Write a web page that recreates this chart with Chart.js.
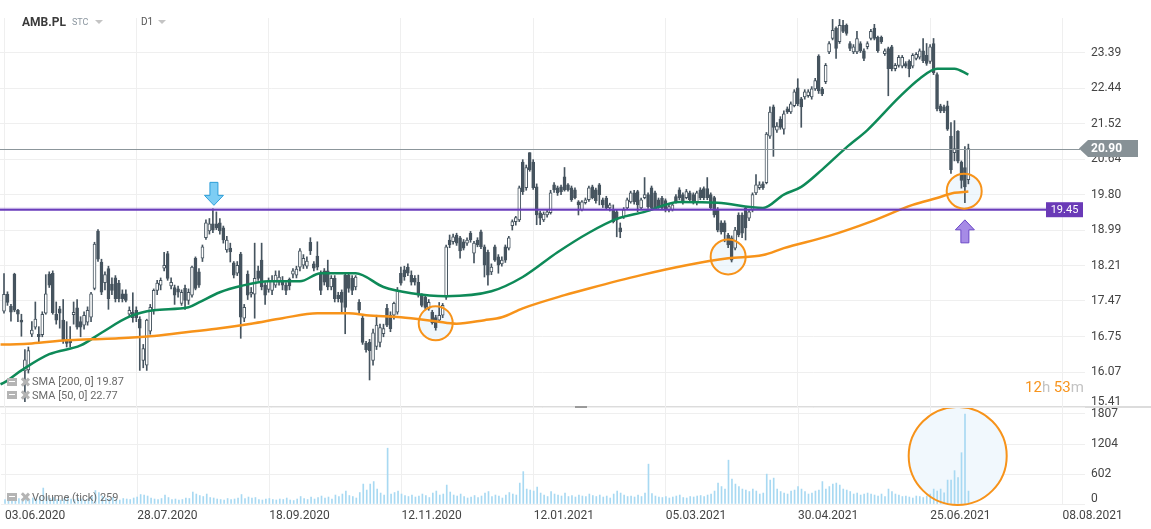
<!DOCTYPE html>
<html>
<head>
<meta charset="utf-8">
<title>AMB.PL</title>
<script src="https://cdn.jsdelivr.net/npm/chart.js@4.4.0/dist/chart.umd.min.js"></script>
<style>
  html, body { margin: 0; padding: 0; background: #fff; }
  #wrap { position: relative; width: 1151px; height: 529px; overflow: hidden; font-family: Roboto, sans-serif; }
  canvas { position: absolute; left: 0; }
  #vc { top: 408px; z-index: 1; }
  #pc { top: 0; z-index: 2; }
  #sep { position: absolute; left: 0; top: 406px; width: 1151px; height: 2px; background: #dcdcdc; z-index: 1; }
  #grip { position: absolute; left: 575px; top: 406px; width: 12px; height: 2px; background: #9a9a9a; z-index: 3; }
  .t { position: absolute; white-space: pre; z-index: 3; line-height: 1; }
  .tri { position: absolute; width: 0; height: 0; border-left: 4px solid transparent; border-right: 4px solid transparent; border-top: 4px solid #c4c4c4; z-index: 3; }
  .ico { position: absolute; width: 10px; height: 8px; background: #b4b4b4; z-index: 3; }
  .ico::after { content: ''; position: absolute; left: 2px; top: 3px; width: 6px; height: 1px; background: #fff; }
  .xx { position: absolute; width: 8px; height: 8px; z-index: 3; }
  .xx::before, .xx::after { content: ''; position: absolute; left: 3px; top: -1px; width: 2.5px; height: 10px; background: #b4b4b4; }
  .xx::before { transform: rotate(45deg); }
  .xx::after { transform: rotate(-45deg); }
</style>
</head>
<body>
<div id="wrap">
  <div id="sep"></div>
  <div id="grip"></div>
  <canvas id="vc" width="1151" height="121"></canvas>
  <canvas id="pc" width="1151" height="420"></canvas>

  <div class="t" style="left:22px;top:16px;font-weight:bold;font-size:12px;color:#3b3b3b">AMB.PL</div>
  <div class="t" style="left:72px;top:18px;font-size:9px;color:#8c97a0">STC</div>
  <div class="tri" style="left:95px;top:20px"></div>
  <div class="t" style="left:141px;top:17px;font-size:10px;color:#555">D1</div>
  <div class="tri" style="left:158px;top:20px"></div>

  <div class="ico" style="left:7px;top:378px"></div><div class="xx" style="left:21px;top:378px"></div>
  <div class="t" style="left:32px;top:376px;font-size:11px;color:#6a6a6a">SMA [200, 0] 19.87</div>
  <div class="ico" style="left:7px;top:391px"></div><div class="xx" style="left:21px;top:391px"></div>
  <div class="t" style="left:32px;top:390px;font-size:11px;color:#6a6a6a">SMA [50, 0] 22.77</div>
  <div class="ico" style="left:7px;top:493px"></div><div class="xx" style="left:21px;top:493px"></div>
  <div class="t" style="left:32px;top:492px;font-size:11px;color:#6a6a6a">Volume (tick) 259</div>

  <div class="t" style="left:1025px;top:380px;font-size:15px"><span style="color:#f7941d">12</span><span style="color:#c3c3c3">h </span><span style="color:#f7941d">53</span><span style="color:#c3c3c3">m</span></div>
</div>

<script>
// daily candles, index 0 = 03.06.2020
var opens = [
  17.26,17.61,17.36,18.03,17.28,17.08,16.09,16.11,16.80,16.94,
  16.80,16.79,17.22,18.03,18.05,17.20,17.31,17.08,16.68,16.70,
  17.19,17.33,17.05,16.98,17.04,17.14,17.73,18.97,18.29,17.85,
  18.15,17.82,17.95,17.84,17.62,17.62,17.20,17.24,17.28,17.10,
  16.29,16.20,16.86,17.28,17.69,17.80,18.16,18.47,17.78,17.75,
  17.72,17.42,17.73,17.48,17.59,18.37,18.08,18.37,18.82,18.97,
  19.13,19.13,19.15,19.04,18.55,18.59,18.27,18.05,18.46,17.12,
  18.03,17.61,17.61,18.10,18.33,17.80,17.71,17.69,17.80,17.86,
  17.90,17.80,17.92,18.03,18.01,18.18,18.22,18.20,18.72,18.25,
  18.42,18.03,18.10,18.10,17.76,17.94,17.59,17.65,18.01,18.01,
  17.94,17.76,17.44,17.12,16.62,16.64,16.29,16.56,16.64,16.81,
  17.32,17.18,17.18,17.24,18.05,18.12,18.18,18.01,17.94,17.86,
  17.59,17.55,17.32,17.24,17.13,17.08,17.18,17.55,18.77,18.73,
  18.88,18.82,18.73,18.70,18.92,18.48,18.77,18.95,18.62,18.50,
  18.08,18.62,18.40,18.25,18.62,18.59,19.09,19.18,19.22,20.57,
  19.96,20.80,20.57,19.98,19.38,19.22,19.33,19.38,20.03,19.96,
  19.98,20.22,20.03,19.96,19.91,19.63,19.45,19.61,19.68,19.98,
  19.91,20.03,19.68,19.72,19.49,19.45,19.40,19.04,19.29,19.49,
  19.63,19.84,19.87,19.49,19.73,19.80,19.96,19.84,19.68,19.72,
  19.66,19.45,19.45,19.75,19.91,19.80,19.73,19.84,19.80,19.61,
  19.91,19.94,19.94,19.80,19.73,19.45,19.15,19.15,18.88,18.82,
  18.59,19.33,19.33,19.49,19.26,19.45,19.84,19.96,20.05,20.08,
  21.21,21.95,21.36,21.64,21.38,21.90,21.82,21.98,22.45,22.16,
  22.21,22.24,22.21,22.42,23.30,22.42,22.61,23.42,23.79,24.08,
  23.70,24.16,24.16,23.65,23.42,23.42,23.65,23.45,23.56,23.79,
  24.08,23.82,23.82,23.37,23.51,23.56,22.96,23.05,23.03,23.10,
  23.16,23.03,23.24,23.27,23.45,23.32,23.16,23.65,22.80,21.98,
  21.95,21.98,21.21,20.80,21.33,20.57,20.44,20.15
];
var highs = [
  18.04,17.66,17.40,18.05,17.30,17.20,16.50,16.55,17.05,17.45,
  16.95,17.25,18.02,18.08,18.10,17.45,17.36,17.50,17.05,16.95,
  17.45,17.50,17.15,17.25,17.35,17.65,18.72,19.00,18.35,18.08,
  18.20,17.95,18.00,17.90,17.70,17.70,17.35,17.64,17.35,17.15,
  16.60,17.10,17.40,17.72,17.90,17.95,18.50,18.52,17.95,17.80,
  17.78,17.70,17.80,17.72,18.20,18.40,18.15,18.66,19.22,19.25,
  19.47,19.40,19.25,19.08,18.85,18.70,18.30,18.30,18.50,17.40,
  18.10,17.75,18.70,18.20,18.70,17.85,17.95,18.00,18.10,18.10,
  17.98,17.85,17.95,18.15,18.20,18.58,18.45,18.40,18.82,18.30,
  18.73,18.10,18.15,18.33,18.00,18.00,17.65,17.70,18.05,18.05,
  18.00,18.00,17.50,17.18,16.66,16.70,16.90,17.18,17.00,17.00,
  17.40,17.25,17.45,17.75,18.18,18.20,18.25,18.10,18.00,18.01,
  17.62,17.60,17.50,17.28,17.18,17.44,17.42,18.66,18.88,18.90,
  18.92,18.85,18.78,18.82,18.96,18.74,18.82,18.99,18.66,18.55,
  18.25,18.66,18.45,18.40,18.66,18.85,19.22,19.30,20.00,20.63,
  20.50,20.80,20.63,20.05,19.42,19.40,19.45,19.90,20.08,20.00,
  20.02,20.44,20.06,20.00,19.96,19.66,19.66,19.72,20.00,20.02,
  19.95,20.06,19.72,19.76,19.60,19.56,19.45,19.15,19.50,19.72,
  19.88,19.90,19.90,19.72,20.20,19.84,20.00,19.88,19.72,19.76,
  19.70,19.56,19.60,19.80,19.96,19.84,19.92,19.88,19.84,19.88,
  19.96,19.98,20.20,19.84,19.76,19.50,19.20,19.20,18.92,18.86,
  19.05,19.38,19.38,19.52,19.45,19.84,20.27,20.10,20.10,21.30,
  21.95,22.00,21.55,21.70,21.85,21.95,22.08,22.40,22.69,22.20,
  22.40,22.40,22.48,22.70,23.34,22.46,23.10,23.70,24.33,24.12,
  24.33,24.30,24.20,23.70,23.62,23.99,23.70,23.50,23.70,24.05,
  24.19,23.86,23.86,23.50,23.55,23.60,23.10,23.32,23.32,23.15,
  23.20,23.37,23.40,23.50,23.79,23.65,23.62,23.79,22.85,22.02,
  22.00,22.10,21.55,21.60,21.35,20.60,20.95,21.01
];
var lows = [
  17.22,17.38,17.06,17.25,17.05,16.76,15.52,16.05,16.75,16.90,
  16.62,16.75,17.20,17.75,17.20,17.00,16.92,16.62,16.55,16.55,
  17.00,16.90,16.75,16.90,16.98,17.05,17.70,18.30,17.60,17.70,
  17.30,17.60,17.45,17.45,17.45,17.45,17.15,17.04,17.05,16.10,
  16.15,16.10,16.80,17.20,17.60,17.70,18.10,17.90,17.72,17.40,
  17.55,17.38,17.30,17.40,17.55,17.70,17.75,18.30,18.78,18.90,
  18.93,19.00,18.90,18.70,18.50,18.29,17.95,18.00,16.72,17.05,
  17.50,17.55,17.12,17.90,17.70,17.40,17.65,17.60,17.75,17.80,
  17.70,17.60,17.70,17.95,17.95,18.10,18.15,18.15,18.45,18.10,
  18.12,17.60,17.80,17.70,17.70,17.45,17.45,17.24,16.81,17.65,
  17.60,17.70,17.20,16.60,16.45,15.92,16.20,16.50,16.55,16.75,
  16.95,16.85,17.10,17.20,17.80,17.90,18.00,17.80,17.80,17.55,
  17.35,17.30,17.28,17.00,16.88,17.03,17.13,17.50,18.60,18.68,
  18.65,18.37,18.55,18.65,18.72,18.27,18.62,18.58,17.97,17.80,
  18.02,18.30,18.05,18.20,18.28,18.55,18.99,19.10,19.18,19.80,
  19.90,20.35,19.92,19.11,19.11,19.18,19.28,19.35,19.85,19.78,
  19.80,19.88,19.88,19.64,19.70,19.33,19.42,19.58,19.64,19.70,
  19.60,19.56,19.50,19.45,19.42,19.15,18.84,18.82,19.25,19.45,
  19.60,19.58,19.40,19.45,19.70,19.48,19.45,19.45,19.48,19.45,
  19.40,19.40,19.42,19.60,19.68,19.58,19.70,19.64,19.58,19.56,
  19.68,19.68,19.68,19.45,19.28,18.95,18.90,18.73,18.60,18.29,
  18.55,18.84,18.82,18.77,19.20,19.40,19.80,19.92,19.92,20.05,
  21.15,20.71,21.30,21.38,21.26,21.78,21.78,21.95,21.98,21.43,
  22.15,22.20,22.15,22.38,22.30,22.24,22.56,23.37,23.75,23.24,
  23.65,23.95,23.88,23.45,23.37,23.37,23.40,23.18,23.50,23.75,
  23.75,23.40,23.65,23.32,22.24,22.90,22.90,23.00,22.98,22.98,
  22.74,22.98,23.20,23.22,23.12,23.05,23.10,22.80,21.85,21.80,
  21.80,21.35,20.30,20.60,20.55,19.95,19.61,20.05
];
var closes = [
  17.61,17.44,17.24,17.28,17.20,17.04,16.30,16.48,16.88,17.10,
  16.75,17.20,17.62,17.80,17.23,17.08,17.22,16.68,16.62,16.63,
  17.24,16.94,16.94,17.18,17.28,17.62,18.68,18.35,17.65,18.02,
  17.52,17.69,17.52,17.52,17.52,17.48,17.28,17.13,17.13,16.92,
  16.52,17.08,17.34,17.69,17.84,17.90,18.22,17.94,17.86,17.59,
  17.65,17.65,17.48,17.65,18.18,17.73,17.80,18.62,19.15,19.13,
  18.99,19.04,18.97,18.77,18.77,18.51,18.01,18.22,17.14,17.34,
  17.59,17.65,17.94,17.94,17.76,17.59,17.88,17.90,18.01,17.97,
  17.80,17.69,17.78,18.10,18.14,18.53,18.37,18.31,18.53,18.16,
  18.18,17.69,17.86,17.76,17.94,17.52,17.52,17.44,17.34,17.73,
  17.69,17.97,17.28,16.64,16.50,16.48,16.83,16.98,16.93,16.91,
  16.98,16.91,17.42,17.69,17.84,17.97,18.05,17.86,17.86,17.59,
  17.38,17.34,17.44,17.03,16.93,17.18,17.38,18.62,18.66,18.84,
  18.70,18.53,18.59,18.77,18.77,18.70,18.66,18.62,18.22,18.01,
  18.18,18.33,18.22,18.33,18.33,18.82,19.18,19.27,19.96,19.87,
  20.44,20.39,19.96,19.33,19.26,19.35,19.40,19.84,19.91,19.84,
  19.87,19.91,19.91,19.68,19.73,19.56,19.63,19.68,19.96,19.73,
  19.66,19.80,19.56,19.49,19.56,19.18,19.22,18.95,19.45,19.68,
  19.84,19.63,19.56,19.68,19.80,19.52,19.49,19.49,19.52,19.49,
  19.45,19.52,19.56,19.63,19.73,19.63,19.87,19.68,19.63,19.84,
  19.73,19.73,19.73,19.49,19.33,18.99,18.95,18.95,18.66,18.33,
  18.99,18.88,18.92,19.04,19.40,19.80,20.03,20.03,19.96,21.26,
  21.82,21.43,21.46,21.43,21.77,21.82,22.03,22.34,22.03,21.95,
  22.34,22.34,22.42,22.64,22.37,22.29,23.05,23.65,24.02,23.51,
  24.16,23.99,23.93,23.51,23.56,23.79,23.45,23.24,23.65,23.99,
  23.79,23.45,23.70,23.45,22.96,22.96,23.05,23.27,23.27,23.03,
  22.96,23.32,23.35,23.45,23.18,23.10,23.56,22.85,21.90,21.85,
  21.85,21.38,20.39,20.90,20.59,20.13,19.98,20.90
];
var volumes = [
  90,120,80,150,110,100,130,90,120,100,
  140,320,150,110,130,90,80,110,140,100,
  90,120,100,80,110,150,270,230,160,120,
  100,130,90,80,110,100,90,120,140,190,
  180,160,120,100,90,110,180,130,90,100,
  80,90,120,110,240,200,170,150,200,130,
  120,100,90,80,110,90,100,120,190,110,
  140,120,130,90,80,100,110,90,80,100,
  90,120,80,70,100,150,110,90,140,100,
  130,160,120,140,100,180,150,200,260,170,
  150,120,230,400,280,400,450,300,220,180,
  1120,200,230,260,200,170,150,180,140,160,
  200,170,130,220,260,180,200,380,240,180,
  160,200,150,120,140,170,130,160,220,250,
  150,180,160,120,180,230,200,180,420,650,
  300,280,260,340,220,180,150,250,200,180,
  160,220,150,170,140,180,160,150,200,170,
  150,180,140,160,120,200,260,220,180,150,
  160,140,180,150,220,800,210,160,140,130,
  150,120,140,160,180,130,120,150,140,160,
  170,150,180,200,260,420,350,300,880,500,
  400,350,300,280,250,300,260,200,220,600,
  480,520,300,250,220,200,260,280,350,300,
  250,200,220,260,280,450,300,350,400,420,
  380,300,280,250,200,220,180,200,220,200,
  180,160,200,150,300,250,200,180,150,160,
  140,120,160,150,130,160,200,300,260,300,
  225,480,480,670,530,1030,1807,259
];

// moving averages (bar index -> value)
var sma50Idx = [-1,0,5,13,22,28,36,43,53,56,62,68,76,85,91,101,109,117,127,140,149,159,168,176,184,194,205,218,224,229,235,242,248,257,263,268,273,277];
var sma50Val = [15.84,15.87,16.10,16.41,16.58,16.83,17.15,17.28,17.34,17.44,17.65,17.78,17.88,17.88,18.05,18.05,17.76,17.63,17.57,17.67,17.97,18.50,18.93,19.24,19.40,19.63,19.61,19.49,19.80,19.98,20.39,20.93,21.36,22.19,22.69,22.96,22.96,22.80];
var sma200Idx = [-1,0,8,18,25,33,42,51,61,71,80,90,99,104,114,124,130,138,143,149,161,168,183,196,208,218,224,237,249,261,268,273,277];
var sma200Val = [16.60,16.60,16.62,16.68,16.70,16.72,16.76,16.83,16.91,17.01,17.12,17.22,17.22,17.18,17.14,17.06,17.01,17.08,17.14,17.32,17.59,17.73,18.01,18.22,18.37,18.44,18.59,18.86,19.18,19.56,19.72,19.84,19.87];

var priceTicks = [15.41,16.07,16.75,17.47,18.21,18.99,19.80,20.64,21.52,22.44,23.39];
var volTicks = [0,602,1204,1807];
var dateTickIdx = [0,38,76,114,152,190,228,266,304];
var dateTickLbl = ['03.06.2020','28.07.2020','18.09.2020','12.11.2020','12.01.2021','05.03.2021','30.04.2021','25.06.2021','08.08.2021'];

var levelPrice = 19.45;   // horizontal level
var lastPrice = 20.90;    // current price
// marked spots: bar index, price/volume, radius
var rings = [ {i: 124, p: 17.02, r: 17}, {i: 208, p: 18.40, r: 17.5}, {i: 275.8, p: 19.88, r: 17.5} ];
var volRing = {i: 273.9, v: 964, r: 49};
var downArrow = {i: 60.3, p: 19.55};
var upArrow = {i: 276, p: 19.22};

var X_MIN = -1.15, X_MAX = 310.5;
var DARK = '#46545f';
Chart.defaults.font.family = 'Roboto, sans-serif';

function drawYLabels(chart, vals, fmt) {
  var ctx = chart.ctx, y = chart.scales.y, area = chart.chartArea;
  ctx.save();
  ctx.font = '12px Roboto';
  ctx.fillStyle = '#444';
  ctx.textBaseline = 'middle';
  ctx.textAlign = 'left';
  vals.forEach(function(v) {
    var py = y.getPixelForValue(v);
    py = Math.max(area.top + 6, Math.min(area.bottom - 5, py));
    ctx.fillText(fmt(v), 1091, py);
  });
  ctx.restore();
}

function arrow(ctx, tx, ty, dir, fill, stroke) {
  // dir 1 = pointing down (tip at bottom), -1 = pointing up
  var s = dir;
  ctx.beginPath();
  ctx.moveTo(tx, ty);
  ctx.lineTo(tx + 9.5, ty - s * 10);
  ctx.lineTo(tx + 4, ty - s * 10);
  ctx.lineTo(tx + 4, ty - s * 23);
  ctx.lineTo(tx - 4, ty - s * 23);
  ctx.lineTo(tx - 4, ty - s * 10);
  ctx.lineTo(tx - 9.5, ty - s * 10);
  ctx.closePath();
  ctx.fillStyle = fill;
  ctx.fill();
  ctx.lineWidth = 1;
  ctx.strokeStyle = stroke;
  ctx.stroke();
}

var priceDecor = {
  id: 'priceDecor',
  beforeDatasetsDraw: function(chart) {
    var ctx = chart.ctx, x = chart.scales.x, y = chart.scales.y;
    ctx.save();
    ctx.fillStyle = 'rgba(228,241,250,0.55)';
    rings.forEach(function(r) {
      ctx.beginPath();
      ctx.arc(x.getPixelForValue(r.i), y.getPixelForValue(r.p), r.r, 0, Math.PI * 2);
      ctx.fill();
    });
    ctx.restore();
  },
  afterDatasetsDraw: function(chart) {
    var ctx = chart.ctx, x = chart.scales.x, y = chart.scales.y;
    ctx.save();
    // current price line
    var yl = Math.round(y.getPixelForValue(lastPrice)) + 0.5;
    ctx.strokeStyle = '#8c969b';
    ctx.lineWidth = 1;
    ctx.beginPath(); ctx.moveTo(0, yl); ctx.lineTo(1080, yl); ctx.stroke();
    // level line
    var yp = y.getPixelForValue(levelPrice);
    ctx.strokeStyle = 'rgba(111,63,192,0.35)';
    ctx.lineWidth = 1;
    ctx.beginPath(); ctx.moveTo(0, yp - 1.5); ctx.lineTo(1046, yp - 1.5); ctx.stroke();
    ctx.strokeStyle = '#6a3dbb';
    ctx.lineWidth = 2;
    ctx.beginPath(); ctx.moveTo(0, yp); ctx.lineTo(1046, yp); ctx.stroke();
    // rings
    ctx.strokeStyle = '#f7931a';
    ctx.lineWidth = 2;
    rings.forEach(function(r) {
      ctx.beginPath();
      ctx.arc(x.getPixelForValue(r.i), y.getPixelForValue(r.p), r.r, 0, Math.PI * 2);
      ctx.stroke();
    });
    // arrows
    arrow(ctx, x.getPixelForValue(downArrow.i), y.getPixelForValue(downArrow.p), 1, '#7dcdf4', '#2d9fd9');
    arrow(ctx, x.getPixelForValue(upArrow.i), y.getPixelForValue(upArrow.p), -1, '#a68be6', '#6a48c6');
    ctx.restore();
  },
  afterDraw: function(chart) {
    var ctx = chart.ctx, y = chart.scales.y;
    drawYLabels(chart, priceTicks, function(v) { return v.toFixed(2); });
    ctx.save();
    // level tag
    var yp = y.getPixelForValue(levelPrice);
    ctx.fillStyle = '#6a3ab7';
    ctx.fillRect(1046, yp - 7.5, 37, 15);
    ctx.fillStyle = '#fff';
    ctx.font = '11px Roboto';
    ctx.textAlign = 'center';
    ctx.textBaseline = 'middle';
    ctx.fillText(levelPrice.toFixed(2), 1064.5, yp + 0.5);
    // price tag
    var yl = y.getPixelForValue(lastPrice);
    ctx.fillStyle = '#879196';
    ctx.beginPath();
    ctx.moveTo(1079, yl);
    ctx.lineTo(1088, yl - 8.5);
    ctx.lineTo(1138, yl - 8.5);
    ctx.lineTo(1138, yl + 8.5);
    ctx.lineTo(1088, yl + 8.5);
    ctx.closePath();
    ctx.fill();
    ctx.fillStyle = '#fff';
    ctx.font = 'bold 12px Roboto';
    ctx.textAlign = 'left';
    ctx.fillText(lastPrice.toFixed(2), 1091, yl + 0.5);
    ctx.restore();
  }
};

var volDecor = {
  id: 'volDecor',
  beforeDatasetsDraw: function(chart) {
    var ctx = chart.ctx, x = chart.scales.x, y = chart.scales.y;
    ctx.save();
    ctx.fillStyle = '#f1f8fd';
    ctx.beginPath();
    ctx.arc(x.getPixelForValue(volRing.i), y.getPixelForValue(volRing.v), volRing.r, 0, Math.PI * 2);
    ctx.fill();
    ctx.restore();
  },
  afterDatasetsDraw: function(chart) {
    var ctx = chart.ctx, x = chart.scales.x, y = chart.scales.y;
    ctx.save();
    ctx.strokeStyle = '#f7931a';
    ctx.lineWidth = 2;
    ctx.beginPath();
    ctx.arc(x.getPixelForValue(volRing.i), y.getPixelForValue(volRing.v), volRing.r, 0, Math.PI * 2);
    ctx.stroke();
    ctx.restore();
  },
  afterDraw: function(chart) {
    drawYLabels(chart, volTicks, function(v) { return String(v); });
  }
};

var wickData = highs.map(function(h, i) { return {x: i, y: [lows[i], h]}; });
var bodyData = opens.map(function(o, i) { return {x: i, y: [Math.min(o, closes[i]), Math.max(o, closes[i])]}; });
var sma50Data = sma50Idx.map(function(v, k) { return {x: v, y: sma50Val[k]}; });
var sma200Data = sma200Idx.map(function(v, k) { return {x: v, y: sma200Val[k]}; });

var GraficoPrecio = new Chart(document.getElementById('pc'), {
  type: 'bar',
  data: {
    datasets: [
      { type: 'line', data: sma200Data, borderColor: '#f7931a', borderWidth: 2.5, pointRadius: 0, cubicInterpolationMode: 'monotone', order: 0 },
      { type: 'line', data: sma50Data, borderColor: '#0e8a58', borderWidth: 2.5, pointRadius: 0, cubicInterpolationMode: 'monotone', order: 0 },
      { data: bodyData, grouped: false, barThickness: 3, minBarLength: 1, borderWidth: 1, borderSkipped: false,
        borderColor: DARK,
        backgroundColor: function(c) { var i = c.dataIndex; return closes[i] >= opens[i] ? '#ffffff' : DARK; },
        order: 1 },
      { data: wickData, grouped: false, barThickness: 1, backgroundColor: DARK, borderWidth: 0, order: 2 }
    ]
  },
  options: {
    responsive: false,
    animation: false,
    events: [],
    layout: { padding: { top: 18, bottom: 13, left: 0, right: 0 } },
    plugins: { legend: { display: false }, tooltip: { enabled: false } },
    scales: {
      x: {
        type: 'linear', min: X_MIN, max: X_MAX, offset: false,
        afterBuildTicks: function(s) { s.ticks = dateTickIdx.map(function(v) { return {value: v}; }); },
        afterFit: function(s) { s.height = 0; },
        ticks: { display: false },
        grid: { color: '#efefef', drawTicks: false, offset: false },
        border: { display: false }
      },
      y: {
        type: 'logarithmic', position: 'right', min: 15.422, max: 24.37,
        afterBuildTicks: function(s) { s.ticks = priceTicks.map(function(v) { return {value: v}; }); },
        afterFit: function(s) { s.width = 66; },
        ticks: { display: false },
        grid: { color: '#efefef', drawTicks: false },
        border: { display: false }
      }
    }
  },
  plugins: [priceDecor]
});

var GraficoVolumen = new Chart(document.getElementById('vc'), {
  type: 'bar',
  data: {
    datasets: [
      { data: volumes.map(function(v, i) { return {x: i, y: v}; }), backgroundColor: '#a8d9f2', barThickness: 1, borderWidth: 0 }
    ]
  },
  options: {
    responsive: false,
    animation: false,
    events: [],
    layout: { padding: 0 },
    plugins: { legend: { display: false }, tooltip: { enabled: false } },
    scales: {
      x: {
        type: 'linear', min: X_MIN, max: X_MAX, offset: false,
        afterBuildTicks: function(s) { s.ticks = dateTickIdx.map(function(v) { return {value: v}; }); },
        afterFit: function(s) { s.height = 25; },
        ticks: {
          autoSkip: false, maxRotation: 0, align: 'start', padding: 5, color: '#444', font: { size: 12 },
          callback: function(v, idx) { return dateTickLbl[idx]; }
        },
        grid: { color: '#efefef', drawTicks: false, offset: false },
        border: { display: false }
      },
      y: {
        position: 'right', min: 0, max: 1927,
        afterBuildTicks: function(s) { s.ticks = volTicks.map(function(v) { return {value: v}; }); },
        afterFit: function(s) { s.width = 66; },
        ticks: { display: false },
        grid: { color: '#efefef', drawTicks: false },
        border: { display: false }
      }
    }
  },
  plugins: [volDecor]
});
</script>
</body>
</html>
